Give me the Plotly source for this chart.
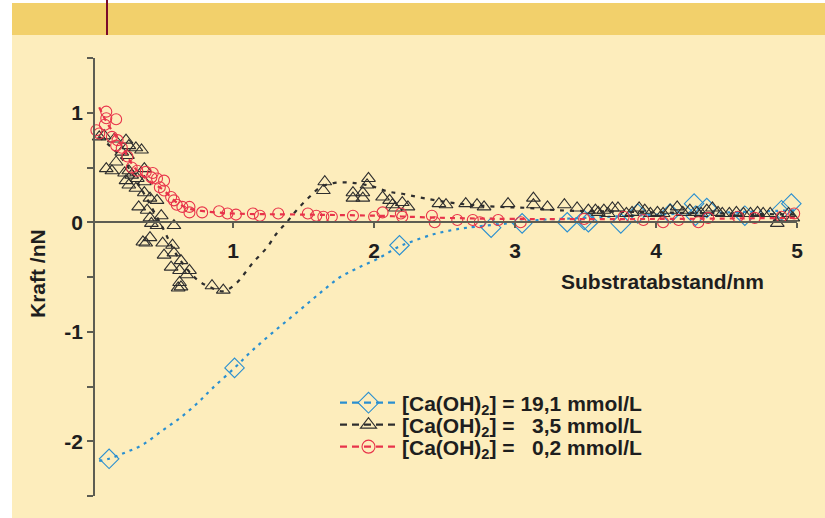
import plotly.graph_objects as go

# ---- Ca(OH)2 = 19,1 mmol/L : measured points and fit curve ----
blue_x = [0.12, 1.01, 2.18, 2.83, 3.05, 3.37, 3.49, 3.52, 3.75, 3.87, 4.10, 4.27, 4.28, 4.36, 4.63, 4.89, 4.96]
blue_y = [-2.16, -1.33, -0.21, -0.05, -0.01, 0.00, 0.02, 0.00, -0.01, 0.08, 0.08, 0.17, 0.06, 0.13, 0.06, 0.11, 0.17]
blue_fit_x = [0.05, 0.12, 0.24, 0.36, 0.50, 0.62, 0.74, 0.85, 1.01, 1.12, 1.26, 1.40, 1.53, 1.65, 1.76, 1.88,
              2.03, 2.18, 2.26, 2.42, 2.56, 2.66, 2.95, 3.16, 3.50, 4.00, 4.50, 5.00]
blue_fit_y = [-2.18, -2.16, -2.10, -2.03, -1.90, -1.79, -1.66, -1.52, -1.33, -1.19, -1.03, -0.88, -0.74, -0.61,
              -0.50, -0.42, -0.33, -0.22, -0.18, -0.11, -0.07, -0.05, -0.01, 0.02, 0.04, 0.07, 0.09, 0.11]

# ---- Ca(OH)2 = 3,5 mmol/L ----
black_x = [0.05, 0.085, 0.157, 0.24, 0.26, 0.31, 0.35, 0.21, 0.25, 0.17, 0.10, 0.14, 0.23, 0.26, 0.37, 0.28,
           0.32, 0.37, 0.24, 0.26, 0.31, 0.37, 0.41, 0.46, 0.33, 0.39, 0.49, 0.41, 0.42, 0.46, 0.58, 0.36,
           0.41, 0.38, 0.50, 0.57, 0.58, 0.51, 0.63, 0.56, 0.62, 0.69, 0.67, 0.62, 0.61, 0.63, 0.85, 0.93,
           1.65, 1.64, 1.96, 1.95, 1.85, 1.92, 1.85, 1.92, 2.06, 2.11, 2.20, 2.13, 2.24, 2.15, 2.46, 2.51,
           2.65, 2.73, 2.78, 2.95, 3.13, 3.13, 3.23, 3.35, 3.44, 3.52, 3.57, 3.59, 3.63, 3.66, 3.69, 3.73,
           3.79, 3.83, 3.88, 3.92, 3.96, 4.01, 4.05, 4.10, 4.15, 4.19, 4.24, 4.29, 4.32, 4.36, 4.40, 4.44,
           4.47, 4.52, 4.57, 4.62, 4.67, 4.72, 4.76, 4.81, 4.86, 4.88, 4.94, 4.97]
black_y = [0.78, 0.79, 0.76, 0.75, 0.70, 0.68, 0.66, 0.64, 0.61, 0.55, 0.49, 0.47, 0.45, 0.47, 0.49, 0.43,
           0.40, 0.37, 0.38, 0.34, 0.31, 0.27, 0.22, 0.20, 0.14, 0.11, 0.06, 0.04, -0.01, -0.03, -0.03, -0.18,
           -0.14, -0.19, -0.19, -0.21, -0.28, -0.30, -0.35, -0.41, -0.44, -0.44, -0.48, -0.55, -0.60, -0.59, -0.58, -0.62,
           0.37, 0.29, 0.40, 0.34, 0.27, 0.27, 0.22, 0.22, 0.23, 0.20, 0.18, 0.16, 0.14, 0.13, 0.17, 0.16,
           0.17, 0.16, 0.14, 0.17, 0.22, 0.16, 0.14, 0.16, 0.13, 0.11, 0.11, 0.09, 0.11, 0.08, 0.13, 0.13,
           0.08, 0.09, 0.13, 0.11, 0.08, 0.09, 0.08, 0.11, 0.14, 0.09, 0.11, 0.09, 0.08, 0.11, 0.13, 0.09,
           0.08, 0.08, 0.09, 0.08, 0.08, 0.09, 0.08, 0.08, -0.01, 0.04, 0.08, 0.04]
black_fit_x = [0.05, 0.20, 0.35, 0.50, 0.60, 0.75, 0.85, 0.93, 1.02, 1.14, 1.24, 1.31, 1.38, 1.45, 1.54, 1.62,
               1.72, 1.85, 1.98, 2.10, 2.20, 2.35, 2.60, 2.90, 3.10, 3.30, 3.60, 4.00, 4.50, 5.00]
black_fit_y = [0.78, 0.60, 0.30, -0.05, -0.30, -0.53, -0.60, -0.63, -0.56, -0.37, -0.23, -0.10, 0.00, 0.11, 0.23, 0.32,
               0.36, 0.36, 0.33, 0.28, 0.26, 0.22, 0.17, 0.14, 0.13, 0.11, 0.10, 0.09, 0.08, 0.07]

# ---- Ca(OH)2 = 0,2 mmol/L ----
red_x = [0.10, 0.10, 0.17, 0.09, 0.03, 0.05, 0.14, 0.18, 0.17, 0.21, 0.25, 0.28, 0.32, 0.38, 0.43, 0.42,
         0.46, 0.51, 0.48, 0.51, 0.56, 0.58, 0.60, 0.64, 0.69, 0.69, 0.78, 0.90, 0.96, 1.02, 1.14, 1.19,
         1.32, 1.53, 1.59, 1.64, 1.70, 1.85, 2.00, 2.06, 2.19, 2.20, 2.41, 2.43, 2.59, 2.70, 2.75, 2.88,
         3.04, 3.49, 3.77, 3.91, 4.05, 4.16, 4.30, 4.37, 4.58, 4.70, 4.89, 4.98]
red_y = [1.01, 0.95, 0.94, 0.89, 0.84, 0.81, 0.78, 0.75, 0.70, 0.68, 0.60, 0.50, 0.47, 0.46, 0.45, 0.41,
         0.40, 0.38, 0.32, 0.29, 0.23, 0.20, 0.16, 0.14, 0.14, 0.09, 0.09, 0.10, 0.08, 0.07, 0.08, 0.06,
         0.08, 0.08, 0.06, 0.05, 0.05, 0.06, 0.05, 0.09, 0.08, 0.05, 0.06, 0.00, 0.02, 0.02, 0.00, 0.02,
         0.00, 0.03, 0.05, 0.02, 0.00, 0.02, 0.00, 0.04, 0.05, 0.04, 0.05, 0.08]
red_fit_x = [0.05, 0.10, 0.20, 0.30, 0.40, 0.50, 0.60, 0.70, 0.80, 1.00, 1.50, 2.00, 2.50, 3.00, 4.00, 5.00]
red_fit_y = [1.05, 0.92, 0.72, 0.50, 0.38, 0.30, 0.18, 0.12, 0.10, 0.08, 0.07, 0.06, 0.04, 0.03, 0.03, 0.04]

x_ticks = [1, 2, 3, 4, 5]
y_ticks = [1, 0, -1, -2]

legend_labels = [
    "[Ca(OH)<sub>2</sub>] = 19,1 mmol/L",
    "[Ca(OH)<sub>2</sub>] = \u00a0\u00a03,5 mmol/L",
    "[Ca(OH)<sub>2</sub>] = \u00a0\u00a00,2 mmol/L",
]

BLUE = "#2a8fd0"
BLACK = "#2e2e2e"
RED = "#e8334a"
AXIS = "#5d5d52"
INK = "#1e1e1e"
FONT = "Liberation Sans, Arial, sans-serif"
FS = 21

W, H = 825, 518
L, R, T, B = 95, 797, 58, 496   # plot area in pixels


def px(p):
    return (p - L) / (R - L)


def py(q):
    return (B - q) / (B - T)


fig = go.Figure()

series = [
    (blue_fit_x, blue_fit_y, blue_x, blue_y, BLUE, "diamond-open", 15, "3px,5px"),
    (black_fit_x, black_fit_y, black_x, black_y, BLACK, "triangle-up-open", 12, "4px,6px"),
    (red_fit_x, red_fit_y, red_x, red_y, RED, "circle-open", 11, "5px,5px"),
]
legend_ids = ["legend", "legend2", "legend3"]
legend_rows = [403, 425, 447]   # row centres, pixels

for i, (fx, fy, mx, my, col, sym, size, dash) in enumerate(series):
    # fitted curve
    fig.add_trace(go.Scatter(
        x=fx, y=fy, mode="lines", line=dict(color=col, width=2.2, dash=dash, shape="spline"),
        showlegend=False, hoverinfo="skip", cliponaxis=False,
    ))
    # measured points
    fig.add_trace(go.Scatter(
        x=mx, y=my, mode="markers", name=legend_labels[i],
        marker=dict(symbol=sym, size=size, color=col, line=dict(color=col, width=1.1)),
        showlegend=False, cliponaxis=False,
    ))
    # legend entry: dashed line with the marker
    fig.add_trace(go.Scatter(
        x=[None], y=[None], mode="lines+markers", name=legend_labels[i],
        line=dict(color=col, width=2.2, dash="7px,5px"),
        marker=dict(symbol=sym, size=size + 2, color=col, line=dict(color=col, width=1.1)),
        legend=legend_ids[i],
    ))

shapes = [
    # light panel
    dict(type="rect", xref="paper", yref="paper", x0=px(12), x1=px(W + 5), y0=py(H + 5), y1=py(35),
         fillcolor="#fdedbc", line=dict(width=0), layer="below"),
    # header band
    dict(type="rect", xref="paper", yref="paper", x0=px(12), x1=px(W + 5), y0=py(35), y1=py(3),
         fillcolor="#f2d06b", line=dict(width=0), layer="below"),
    # dark marker line in the header
    dict(type="line", xref="paper", yref="paper", x0=px(107), x1=px(107), y0=py(35), y1=py(-2),
         line=dict(color="#7a0a2a", width=2), layer="above"),
]

legend_style = dict(
    xanchor="left", yanchor="middle", bgcolor="rgba(0,0,0,0)", borderwidth=0,
    font=dict(family=FONT, size=FS, color=INK, weight="bold"), itemwidth=57,
)

fig.update_layout(
    width=W, height=H,
    margin=dict(l=L, r=W - R, t=T, b=H - B, pad=0),
    paper_bgcolor="white",
    plot_bgcolor="rgba(0,0,0,0)",
    font=dict(family=FONT, color=INK, size=FS),
    shapes=shapes,
    xaxis=dict(
        range=[0.02, 5.0], tickvals=x_ticks, ticktext=[str(v) for v in x_ticks],
        anchor="free", position=0.625, showgrid=False, zeroline=False,
        showline=True, linecolor=AXIS, linewidth=1.5,
        ticks="outside", ticklen=5, tickwidth=1.5, tickcolor=AXIS,
        ticklabelstandoff=5,
        tickfont=dict(family=FONT, size=FS, color=INK, weight="bold"),
    ),
    yaxis=dict(
        range=[-2.5, 1.5], tickvals=y_ticks, ticktext=[str(v) for v in y_ticks],
        showgrid=False, zeroline=False,
        showline=True, linecolor=AXIS, linewidth=1.5,
        ticks="outside", ticklen=6, tickwidth=1.5, tickcolor=AXIS,
        minor=dict(dtick=0.5, tick0=0, ticks="outside", ticklen=6, tickwidth=1.5, tickcolor=AXIS, showgrid=False),
        ticklabelstandoff=0,
        tickfont=dict(family=FONT, size=FS, color=INK, weight="bold"),
    ),
    annotations=[
        dict(text="<b>Kraft /nN</b>", xref="paper", yref="paper", x=px(37), y=py(274),
             xanchor="center", yanchor="middle",
             textangle=-90, showarrow=False, font=dict(family=FONT, size=FS, color=INK)),
        dict(text="<b>Substratabstand/nm</b>", xref="paper", yref="paper", x=px(662), y=py(281),
             xanchor="center", yanchor="middle",
             showarrow=False, font=dict(family=FONT, size=FS, color=INK)),
    ],
)

for lid, row in zip(legend_ids, legend_rows):
    fig.update_layout({lid: dict(x=px(335), y=py(row), **legend_style)})

fig.write_html("out.html")
